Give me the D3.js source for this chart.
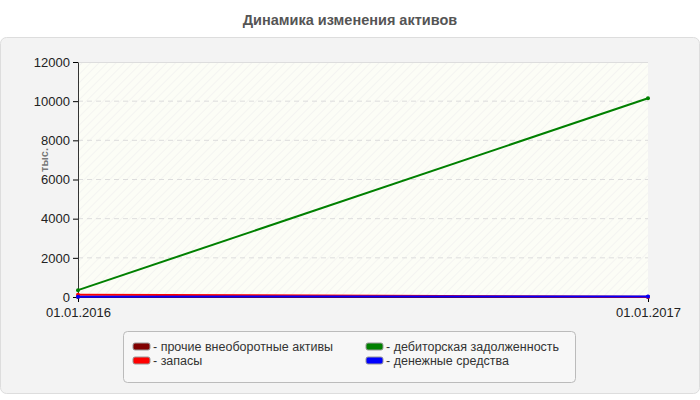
<!DOCTYPE html><html><head><meta charset="utf-8"><script src="https://cdn.jsdelivr.net/npm/d3@7"></script>
<style>body{margin:0;background:#fff;font-family:"Liberation Sans",Arial,sans-serif}</style></head><body><svg id="c" width="700" height="400"></svg>
<script>
const dates=["01.01.2016","01.01.2017"];
const seriesNames=["прочие внеоборотные активы","запасы","дебиторская задолженность","денежные средства"];
const seriesColors=["#800000","#ff0000","#008000","#0000ff"];
const otherAssets=[0,0];
const inventories=[120,10];
const receivables=[350,10150];
const cash=[15,30];
const yTicks=[0,2000,4000,6000,8000,10000,12000];
const allSeries=[otherAssets,inventories,receivables,cash];

const svg=d3.select("#c");
svg.append("text").attr("x",350).attr("y",25).attr("text-anchor","middle").attr("font-size",14.5).attr("font-weight","bold").attr("fill","#555").text("Динамика изменения активов");
svg.append("rect").attr("x",0.5).attr("y",37.5).attr("width",699).attr("height",356).attr("rx",6).attr("fill","#f3f3f3").attr("stroke","#ddd");
const defs=svg.append("defs");
const p=defs.append("pattern").attr("id","h").attr("width",6).attr("height",6).attr("patternUnits","userSpaceOnUse").attr("patternTransform","rotate(45)");
p.append("rect").attr("width",6).attr("height",6).attr("fill","#fcfdf6");
p.append("line").attr("x1",0).attr("y1",0).attr("x2",0).attr("y2",6).attr("stroke","#ececec").attr("stroke-width",1);
const L=78,R=648,T=62,B=297;
const x=d3.scalePoint().domain(dates).range([L,R]);
const y=d3.scaleLinear().domain([0,12000]).range([B,T]);
svg.append("rect").attr("x",L).attr("y",T).attr("width",R-L).attr("height",B-T).attr("fill","url(#h)");
svg.append("line").attr("x1",L).attr("x2",R).attr("y1",T+0.5).attr("y2",T+0.5).attr("stroke","#ddd");
yTicks.slice(1,-1).forEach(v=>svg.append("line").attr("x1",L).attr("x2",R).attr("y1",y(v)).attr("y2",y(v)).attr("stroke","#ddd").attr("stroke-dasharray","5,4"));
const ya=svg.append("g").attr("transform",`translate(${L},0)`).call(d3.axisLeft(y).tickValues(yTicks).tickFormat(d3.format("d")).tickSize(5).tickSizeOuter(0));
ya.selectAll("text").attr("font-size",13).attr("fill","#222").attr("font-family","Liberation Sans,Arial");
ya.select(".domain").attr("stroke","#333");
const xa=svg.append("g").attr("transform",`translate(0,${B})`).call(d3.axisBottom(x).tickSize(5).tickSizeOuter(0));
xa.selectAll("text").attr("font-size",13).attr("fill","#222").attr("dy","0.9em").attr("font-family","Liberation Sans,Arial");
xa.select(".domain").attr("stroke","#333");
svg.append("text").attr("transform","translate(48,160) rotate(-90)").attr("text-anchor","middle").attr("font-size",11).attr("font-weight","bold").attr("fill","#777").text("тыс.");
const line=d3.line().x((d,i)=>x(dates[i])).y(d=>y(d));
[0,2,1,3].forEach(k=>{
 svg.append("path").attr("d",line(allSeries[k])).attr("fill","none").attr("stroke",seriesColors[k]).attr("stroke-width",2);
 svg.selectAll(null).data(allSeries[k]).enter().append("circle").attr("cx",(d,i)=>x(dates[i])).attr("cy",d=>y(d)).attr("r",2).attr("fill",seriesColors[k]);
});
svg.append("rect").attr("x",123.5).attr("y",331.5).attr("width",452).attr("height",51).attr("rx",4).attr("fill","#f7f7f7").attr("stroke","#bbb");
const pos=[[133,347],[133,361],[366,347],[366,361]];
seriesNames.forEach((n,k)=>{
 const [px,py]=pos[k];
 svg.append("rect").attr("x",px).attr("y",py-4).attr("width",17).attr("height",7).attr("rx",2).attr("fill",seriesColors[k]).attr("stroke","#999");
 svg.append("text").attr("x",px+20).attr("y",py+4).attr("font-size",12.5).attr("fill","#333").text("- "+n);
});
</script></body></html>
